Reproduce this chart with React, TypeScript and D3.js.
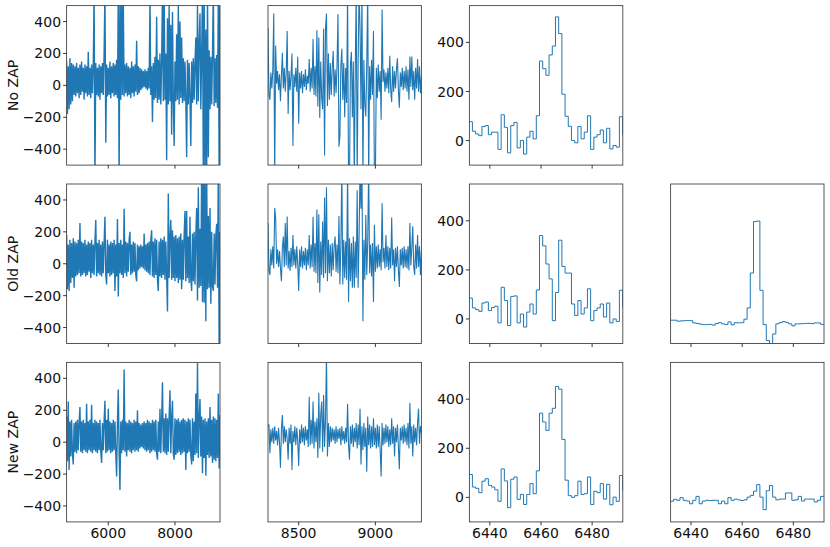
import React from "react";
import * as d3 from "d3";

// ---------------- DATA ----------------
const rowLabels = ["No ZAP", "Old ZAP", "New ZAP"];

// Full spectrum (decimated envelope samples), 4750..9350 Å every 25 Å
const fullStart = 4750;
const fullStep = 25;
const noZapFull = [
  150,-180,120,-150,170,-120,140,-100,130,-60,
  120,-70,140,-50,110,-80,130,-60,150,-40,
  110,-90,130,-50,120,-70,210,-60,110,-80,
  130,-50,120,600,-600,140,-60,110,-70,130,
  -90,120,-50,140,-60,200,600,-360,130,-70,
  110,-60,150,-80,120,-50,140,-70,130,-60,
  160,-80,600,-600,520,-90,600,-60,540,-70,
  130,-50,140,-70,120,-60,110,-80,150,-50,
  120,-70,130,-40,280,-60,120,-50,110,-30,
  100,-20,90,-10,100,-20,90,-30,110,-20,
  550,-60,120,-230,140,-90,180,-80,430,-110,
  160,-90,200,-120,140,600,-100,600,-90,200,
  -470,420,-120,500,-100,380,-310,460,-90,-380,
  150,-100,320,-90,500,-120,400,-80,300,-110,
  170,-100,150,-90,-450,160,-120,140,-80,-380,
  150,-110,170,-90,140,300,-120,500,-100,260,
  450,-150,200,600,-600,600,-600,350,-600,600,
  -450,220,-150,180,-120,200,600,-130,170,-110,
  190,-140,600,-600,600,
];
const oldZapFull = [
  180,-160,120,-170,150,-120,130,-90,160,-150,
  140,-80,130,-70,150,-60,255,-80,140,-70,
  130,-60,150,-80,120,-70,140,-50,130,-90,
  150,-60,120,-70,140,275,-80,130,-60,150,
  -70,120,-80,140,-60,130,295,-70,-130,150,
  -60,120,-80,140,-70,130,-60,150,-170,120,
  -80,280,-205,130,-60,150,-70,120,-90,345,
  -60,140,-80,130,-50,150,200,-70,120,-60,
  140,-50,130,-70,-110,120,-40,110,-30,120,
  -20,110,-30,190,-40,120,-50,130,-60,140,
  -70,150,210,-80,140,-90,160,-70,150,-100,
  -170,140,-80,160,-90,150,-70,170,-100,140,
  -80,-300,440,-90,160,275,-100,210,-90,170,
  -110,180,-90,160,-120,170,-100,190,-160,150,
  -100,180,330,-110,330,-90,170,-120,295,-100,
  -170,190,-110,200,-130,180,350,-230,480,-150,
  220,-140,600,-240,600,-245,600,-360,600,-160,
  300,-150,350,-250,200,-140,-170,190,-130,180,
  250,-150,600,-600,200,
];
const newZapFull = [
  160,-120,255,-175,130,-90,140,-70,-140,120,
  -60,130,-70,140,-50,120,220,-60,130,-70,
  140,-50,120,-60,240,-70,130,-50,140,-60,
  235,-70,120,-50,140,-60,130,-70,120,-50,
  140,-60,-130,120,-50,130,260,-70,140,-60,
  210,-50,130,-70,120,-60,140,-50,130,-70,
  -215,120,330,-60,-300,130,-70,140,-50,455,
  -60,130,-90,120,-50,140,-60,130,-70,120,
  -50,140,-60,130,-50,200,-60,120,-40,110,
  -30,120,-40,130,-50,120,-60,140,-50,130,
  -70,120,-60,140,-50,130,-60,140,-70,-110,
  130,-60,210,-70,140,375,-60,150,-70,180,
  -80,150,-60,160,325,-70,150,260,-70,-110,
  150,-80,140,-70,150,-60,130,-80,140,-70,
  150,-60,140,-175,130,-70,150,-60,140,-80,
  -140,150,-120,130,-80,305,-70,500,-100,150,
  270,-90,160,-195,140,-100,150,-210,130,-80,
  150,-100,220,-90,140,-130,160,-110,150,-120,
  140,-100,305,-165,170,
];

// Red part, 8300..9300 Å every 6.25 Å
const redStart = 8300;
const redStep = 6.25;
const noZapRed = [
  360,-60,-90,80,-20,100,450,-600,250,10,
  90,-30,70,-100,60,205,-20,110,-40,80,
  340,-180,90,-30,60,200,-380,70,-10,110,
  -40,180,-240,80,-20,90,-50,70,-10,100,
  -30,60,10,165,-40,110,-20,290,-60,120,
  -70,346,-133,300,-205,150,-80,-150,355,-440,
  360,450,-130,200,-90,140,-60,110,215,-70,
  100,-50,130,447,-385,-320,120,230,-90,140,
  -200,110,-110,600,-600,-600,130,210,-200,150,
  -600,90,600,-600,140,600,360,-150,600,-600,
  160,-120,-195,130,600,-600,120,-90,160,-60,
  340,-600,-600,110,-80,130,-40,90,-215,475,
  20,100,-40,80,-20,110,-50,185,-30,-105,
  120,-40,90,-20,100,170,-30,-140,80,-10,
  110,-30,90,-20,120,-40,100,-90,180,-10,
  180,-30,90,-90,110,-20,165,-40,120,-50,
  60,
];
const oldZapRed = [
  255,-40,-70,90,-10,110,-30,350,285,0,
  90,-20,80,-30,-110,100,170,-20,255,-10,
  296,-30,80,-45,100,-20,180,-10,90,-30,
  110,0,-170,90,-20,110,-30,80,-10,100,
  -40,90,-10,180,-30,120,-20,295,-50,130,
  -60,340,-120,310,-180,140,-70,265,-90,415,
  -60,480,-110,150,-60,120,-80,130,-40,110,
  170,-50,120,-60,300,-130,110,600,-130,150,
  -90,140,-100,600,-240,160,-110,130,-150,170,
  -150,140,-90,460,-150,170,600,345,600,-360,
  150,-100,305,-70,140,600,-60,120,-80,130,
  -240,245,-50,110,-30,120,-20,90,-40,380,
  10,100,-30,180,-20,110,-40,100,-30,290,
  -10,90,-110,100,-20,110,-40,-145,90,-10,
  100,-30,110,-20,90,-30,110,-40,255,-10,
  100,235,-20,-70,120,-30,180,-20,110,-70,
  80,
];
const newZapRed = [
  100,110,-70,80,0,90,-10,100,10,70,
  -20,90,0,-160,80,170,-10,100,0,80,
  20,-110,90,-10,110,-175,70,0,100,-20,
  90,10,-150,80,-10,110,0,90,-20,100,
  10,80,-30,285,-20,140,-10,255,-40,130,
  0,150,-100,310,-40,170,255,-60,295,-30,
  140,550,-90,120,-30,100,0,90,10,80,
  -10,100,0,80,20,90,-20,100,10,70,
  -10,90,0,240,-20,-110,100,-10,110,-30,
  90,0,120,-40,110,-20,210,-140,100,-50,
  120,-30,90,-185,160,-20,110,-40,100,-30,
  150,-20,90,-40,110,-30,100,-50,-215,120,
  -20,90,-10,110,0,100,-30,80,-20,150,
  -10,100,-90,90,0,110,-30,-170,90,10,
  100,-10,110,0,90,-20,120,-40,245,-10,
  100,-90,110,0,90,-20,120,210,-10,100,
  60,
];

// H-alpha window, bins of 1.25 Å starting 6431.92 Å
const lineStart = 6431.92;
const lineStep = 1.25;
const noZapLine = [
  77,38,27,20,57,61,24,34,34,-36,105,54,-50,61,74,-30,0,-55,14,38,7,101,
  324,293,266,349,385,504,436,189,99,58,0,-9,57,7,34,101,-36,14,24,43,-9,
  50,-34,-20,-27,97,24,
];
const oldZapLine = [
  85,45,38,31,65,69,34,47,52,-16,129,75,-27,92,94,-16,20,-33,28,61,20,118,
  340,298,224,163,-7,108,321,214,187,187,61,14,75,20,45,123,-7,34,45,61,8,
  65,-16,0,-10,117,47,
];
const newZapLine = [
  93,42,37,19,66,76,49,42,31,-16,116,67,-42,74,83,-8,12,-29,12,56,15,108,
  343,307,273,343,363,452,441,236,70,7,0,7,66,12,15,83,-29,25,19,56,-7,
  53,-30,1,-16,89,29,
];
const oldZapDiff = [
  -5,-5,-9,-8,-7,-6,-7,-16,-18,-21,-23,-23,-22,-25,-19,-15,-20,-23,-12,-24,
  -15,-16,-15,-1,45,187,397,399,117,-23,-88,-140,-61,-20,-15,-11,-14,-20,
  -28,-20,-20,-19,-18,-18,-19,-16,-16,-22,-22,
];
const newZapDiff = [
  -16,-8,-12,-1,-12,-15,-26,-12,4,-26,-15,-12,-13,-12,-12,-26,-15,-26,-1,
  -12,-7,-10,-13,-10,1,8,25,52,1,-50,27,48,1,-10,-7,-7,18,18,-12,-10,4,-15,
  -7,-7,-7,-19,-12,4,4,
];

const fullTicks = [6000, 8000];
const redTicks = [8500, 9000];
const lineTicks = [6440, 6460, 6480];
const wideYTicks = [-400, -200, 0, 200, 400];
const lineYTicks = [0, 200, 400];

// ---------------- LAYOUT ----------------
const W = 830;
const H = 547;
const colLeft = [66.6, 268.0, 469.4, 670.6];
const rowTop = [5.6, 184.0, 362.4];
const PW = 153.4;
const PH = 159.5;
const COLOR = "#1f77b4";
const FONT = "DejaVu Sans, sans-serif";
const FS = 14;

type PanelSpec = {
  row: number;
  col: number;
  values: number[];
  start: number;
  step: number;
  xDomain: [number, number];
  yDomain: [number, number];
  xTicks: number[];
  yTicks: number[] | null;
  stepped: boolean;
  lw: number;
};

const seriesByRow = [
  [noZapFull, noZapRed, noZapLine, null],
  [oldZapFull, oldZapRed, oldZapLine, oldZapDiff],
  [newZapFull, newZapRed, newZapLine, newZapDiff],
];

const panels: PanelSpec[] = [];
seriesByRow.forEach((row, r) => {
  row.forEach((vals, c) => {
    if (!vals) return;
    if (c === 0)
      panels.push({ row: r, col: c, values: vals, start: fullStart, step: fullStep, xDomain: [4750, 9350], yDomain: [-500, 500], xTicks: fullTicks, yTicks: wideYTicks, stepped: false, lw: 1.4 });
    else if (c === 1)
      panels.push({ row: r, col: c, values: vals, start: redStart, step: redStep, xDomain: [8300, 9300], yDomain: [-500, 500], xTicks: redTicks, yTicks: null, stepped: false, lw: 1.1 });
    else
      panels.push({ row: r, col: c, values: vals, start: lineStart, step: lineStep, xDomain: [6432, 6492], yDomain: [-100, 550], xTicks: lineTicks, yTicks: c === 2 ? lineYTicks : null, stepped: true, lw: 1.0 });
  });
});

function Panel({ p }: { p: PanelSpec }) {
  const left = colLeft[p.col];
  const top = rowTop[p.row];
  const x = d3.scaleLinear().domain(p.xDomain).range([left, left + PW]);
  const y = d3.scaleLinear().domain(p.yDomain).range([top + PH, top]);
  let pts: [number, number][] = p.values.map((v, i) => [p.start + i * p.step, v]);
  if (p.stepped) {
    const last = pts[pts.length - 1];
    pts = [...pts, [last[0] + p.step, last[1]]];
  }
  const line = d3
    .line<[number, number]>()
    .x((d) => x(d[0]))
    .y((d) => y(d[1]))
    .curve(p.stepped ? d3.curveStepAfter : d3.curveLinear);
  const id = `clip-${p.row}-${p.col}`;
  const bottom = top + PH;
  const showXLabels = p.row === 2;
  return (
    <g>
      <defs>
        <clipPath id={id}>
          <rect x={left} y={top} width={PW} height={PH} />
        </clipPath>
      </defs>
      <path d={line(pts) || ""} fill="none" stroke={COLOR} strokeWidth={p.lw} strokeLinejoin={p.stepped ? "miter" : "bevel"} clipPath={`url(#${id})`} />
      <rect x={left} y={top} width={PW} height={PH} fill="none" stroke="#444" strokeWidth={0.9} />
      {p.xTicks.map((t) => (
        <g key={`x${t}`}>
          <line x1={x(t)} x2={x(t)} y1={bottom} y2={bottom + 3.5} stroke="#222" strokeWidth={0.9} />
          {showXLabels && (
            <text x={x(t)} y={bottom + 16} textAnchor="middle" fontFamily={FONT} fontSize={FS} fill="#111">
              {t}
            </text>
          )}
        </g>
      ))}
      {p.yTicks &&
        p.yTicks.map((t) => (
          <g key={`y${t}`}>
            <line x1={left - 3.5} x2={left} y1={y(t)} y2={y(t)} stroke="#222" strokeWidth={0.9} />
            <text x={left - 5.5} y={y(t)} dy="0.36em" textAnchor="end" fontFamily={FONT} fontSize={FS} fill="#111">
              {t < 0 ? `\u2212${Math.abs(t)}` : `${t}`}
            </text>
          </g>
        ))}
    </g>
  );
}

export default function App() {
  return (
    <svg width={W} height={H} viewBox={`0 0 ${W} ${H}`} style={{ position: "absolute", left: 0, top: 0, background: "#fff" }}>
      <rect x={0} y={0} width={W} height={H} fill="#fff" />
      {panels.map((p) => (
        <Panel key={`${p.row}-${p.col}`} p={p} />
      ))}
      {rowLabels.map((lab, r) => {
        const cy = rowTop[r] + PH / 2;
        return (
          <text key={lab} transform={`translate(13,${cy}) rotate(-90)`} textAnchor="middle" dominantBaseline="central" fontFamily={FONT} fontSize={FS} fill="#111">
            {lab}
          </text>
        );
      })}
    </svg>
  );
}
